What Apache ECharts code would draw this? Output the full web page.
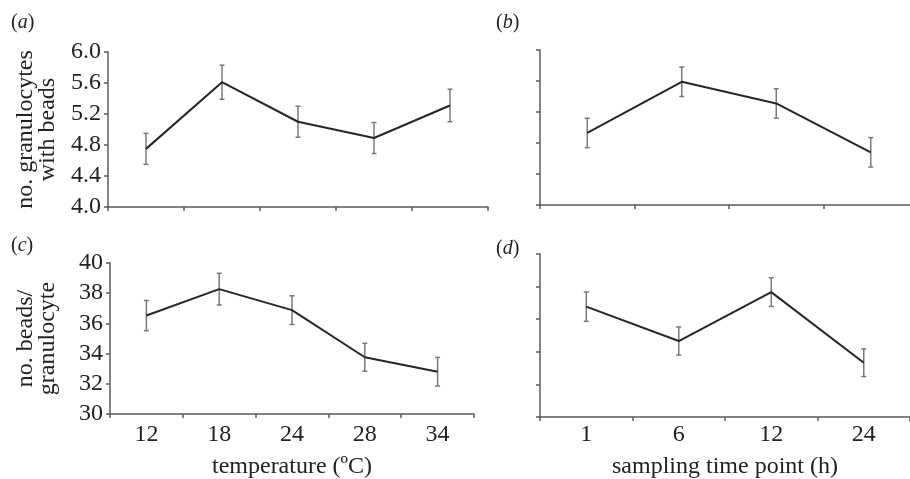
<!DOCTYPE html>
<html>
<head>
<meta charset="utf-8">
<script src="https://cdn.jsdelivr.net/npm/echarts@6/dist/echarts.min.js"></script>
<style>
  html, body { margin: 0; padding: 0; background: #fff; }
  #main { width: 910px; height: 479px; }
</style>
</head>
<body>
<div id="main"></div>
<script>
// categories
var tempCats = ['12', '18', '24', '28', '34'];
var timeCats = ['1', '6', '12', '24'];

// (a) granulocytes with beads vs temperature
var granTemp = [4.75, 5.61, 5.10, 4.89, 5.31];
var granTempErr = [0.20, 0.22, 0.20, 0.20, 0.21];
// (b) granulocytes with beads vs sampling time
var granTime = [4.93, 5.59, 5.31, 4.68];
var granTimeErr = [0.19, 0.19, 0.19, 0.19];
// (c) beads per granulocyte vs temperature
var beadsTemp = [36.52, 38.27, 36.88, 33.76, 32.8];
var beadsTempErr = [1.0, 1.05, 0.95, 0.92, 0.95];
// (d) beads per granulocyte vs sampling time
var beadsTime = [36.77, 34.66, 37.66, 33.33];
var beadsTimeErr = [0.9, 0.86, 0.88, 0.85];

var serif = '"Liberation Serif", "DejaVu Serif", serif';
var axisCol = '#5a5a5a';
var lineCol = '#262626';
var errCol = '#7a7a7a';
var fs = 24;

function xAxis(idx, cats, showLabels, name, margin, gap) {
  return {
    type: 'category', gridIndex: idx, data: cats, boundaryGap: true,
    axisLine: { lineStyle: { color: axisCol, width: 1.5 } },
    axisTick: { show: true, length: 4, lineStyle: { color: axisCol, width: 1.5 } },
    axisLabel: { show: showLabels, margin: margin || 9, color: '#222', fontFamily: serif, fontSize: fs },
    name: name || '', nameLocation: 'middle', nameGap: gap || 41,
    nameTextStyle: { color: '#222', fontFamily: serif, fontSize: fs }
  };
}

function yAxis(idx, min, max, interval, showLabels, decimals, name, gap) {
  return {
    type: 'value', gridIndex: idx, min: min, max: max, interval: interval,
    axisLine: { show: true, lineStyle: { color: axisCol, width: 1.5 } },
    axisTick: { show: true, length: 4, lineStyle: { color: axisCol, width: 1.5 } },
    splitLine: { show: false },
    axisLabel: {
      show: showLabels, margin: 7, color: '#222', fontFamily: serif, fontSize: fs,
      formatter: function (v) { return v.toFixed(decimals); }
    },
    name: name || '', nameLocation: 'middle', nameRotate: 90, nameGap: gap || 49,
    nameTextStyle: { color: '#222', fontFamily: serif, fontSize: fs, lineHeight: 22 }
  };
}

function lineSeries(idx, vals) {
  return {
    type: 'line', xAxisIndex: idx, yAxisIndex: idx, data: vals,
    symbol: 'none', lineStyle: { color: lineCol, width: 2 }, z: 3
  };
}

function errSeries(idx, vals, errs) {
  var d = vals.map(function (v, i) { return [i, v - errs[i], v + errs[i]]; });
  return {
    type: 'custom', xAxisIndex: idx, yAxisIndex: idx, data: d, z: 2,
    renderItem: function (params, api) {
      var lo = api.coord([api.value(0), api.value(1)]);
      var hi = api.coord([api.value(0), api.value(2)]);
      var w = 2.5;
      var st = { stroke: errCol, lineWidth: 1.5 };
      return {
        type: 'group',
        children: [
          { type: 'line', shape: { x1: hi[0], y1: hi[1], x2: lo[0], y2: lo[1] }, style: st },
          { type: 'line', shape: { x1: hi[0] - w, y1: hi[1], x2: hi[0] + w, y2: hi[1] }, style: st },
          { type: 'line', shape: { x1: lo[0] - w, y1: lo[1], x2: lo[0] + w, y2: lo[1] }, style: st }
        ]
      };
    }
  };
}

function panelLabel(letter, x, y) {
  return {
    type: 'text', left: x, top: y,
    style: {
      text: '{n|(}{i|' + letter + '}{n|)}',
      rich: {
        n: { fontFamily: serif, fontSize: 20, fill: '#222' },
        i: { fontFamily: serif, fontSize: 20, fontStyle: 'italic', fill: '#222' }
      }
    }
  };
}

var chart = echarts.init(document.getElementById('main'));
chart.setOption({
  backgroundColor: '#fff',
  animation: false,
  grid: [
    { left: 108, top: 52, width: 380, height: 155, outerBoundsMode: 'none' },
    { left: 540, top: 50, width: 378, height: 155, outerBoundsMode: 'none' },
    { left: 110, top: 263, width: 364, height: 151, outerBoundsMode: 'none' },
    { left: 540, top: 254, width: 370, height: 163, outerBoundsMode: 'none' }
  ],
  xAxis: [
    xAxis(0, tempCats, false),
    xAxis(1, timeCats, false),
    xAxis(2, tempCats, true, 'temperature (ºC)', 9, 41),
    xAxis(3, timeCats, true, 'sampling time point (h)', 6, 38)
  ],
  yAxis: [
    yAxis(0, 4, 6, 0.4, true, 1, 'no. granulocytes\nwith beads', 49),
    yAxis(1, 4, 6, 0.4, false, 1),
    yAxis(2, 30, 40, 2, true, 0, 'no. beads/\ngranulocyte', 51),
    yAxis(3, 30, 40, 2, false, 0)
  ],
  graphic: [
    panelLabel('a', 11, 13),
    panelLabel('b', 496, 13),
    panelLabel('c', 11, 236),
    panelLabel('d', 496, 239)
  ],
  series: [
    errSeries(0, granTemp, granTempErr), lineSeries(0, granTemp),
    errSeries(1, granTime, granTimeErr), lineSeries(1, granTime),
    errSeries(2, beadsTemp, beadsTempErr), lineSeries(2, beadsTemp),
    errSeries(3, beadsTime, beadsTimeErr), lineSeries(3, beadsTime)
  ]
});
</script>
</body>
</html>
